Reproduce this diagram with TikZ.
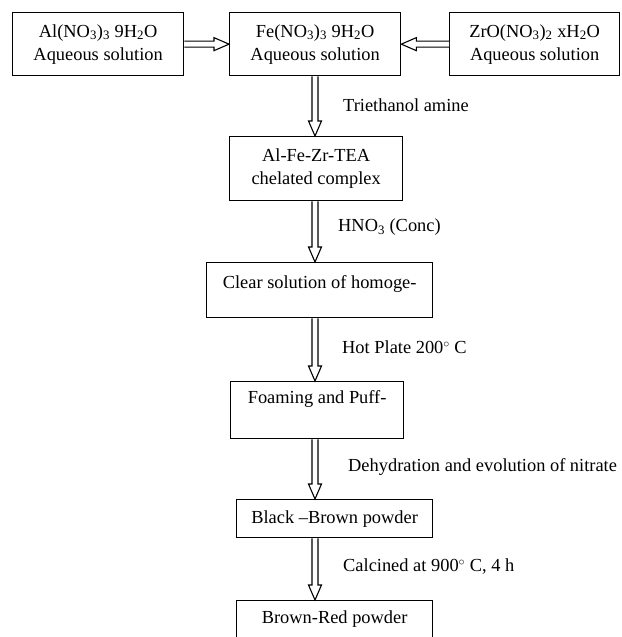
\documentclass[tikz,border=0pt]{standalone}
\usepackage{fontspec}
\setmainfont{Liberation Serif}
\usetikzlibrary{calc}
\tikzset{
  box/.style={draw=black, line width=1.3pt, fill=white, inner sep=0pt, anchor=north west,
    align=center, font=\fontsize{18.4}{23}\selectfont},
  lbl/.style={anchor=west, inner sep=0pt, font=\fontsize{18.4}{23}\selectfont},
  hollow/.style={draw=black, line width=1.1pt, fill=white, line join=miter},
}
\newcommand\hollowarrow[2]{%
  \coordinate (hb) at ($(#2)!15pt!(#1)$);
  \draw[hollow] ($(#1)!3pt!90:(#2)$) -- ($(hb)!3pt!90:(#2)$) -- ($(hb)!6.5pt!90:(#2)$) -- (#2)
    -- ($(hb)!6.5pt!-90:(#2)$) -- ($(hb)!3pt!-90:(#2)$) -- ($(#1)!3pt!-90:(#2)$);
}
\begin{document}
\begin{tikzpicture}[x=1pt, y=-1pt]
\useasboundingbox (0,0) rectangle (621,637);
\clip (0,0) rectangle (621,637);
\fill[white] (0,0) rectangle (621,637);

\node[box, minimum width=171pt, minimum height=63pt] (al) at (12,12)
  {Al(NO\textsubscript{3})\textsubscript{3} 9H\textsubscript{2}O\\Aqueous solution};
\node[box, minimum width=171pt, minimum height=63pt] (fe) at (229,12)
  {Fe(NO\textsubscript{3})\textsubscript{3} 9H\textsubscript{2}O\\Aqueous solution};
\node[box, minimum width=170pt, minimum height=63pt] (zr) at (449,12)
  {ZrO(NO\textsubscript{3})\textsubscript{2} xH\textsubscript{2}O\\Aqueous solution};
\node[box, minimum width=173pt, minimum height=64pt] (tea) at (229,136)
  {Al-Fe-Zr-TEA\\chelated complex};
\node[box, minimum width=226pt, text height=26pt, text depth=29pt] (clear) at (206,262)
  {Clear solution of homoge-};
\node[box, minimum width=173pt, text height=22pt, text depth=35pt] (foam) at (230,381)
  {Foaming and Puff-};
\node[box, minimum width=196pt, minimum height=38pt] (black) at (236,499)
  {Black --Brown powder};
\node[box, minimum width=196pt, text height=23pt, text depth=22pt] (brown) at (236,600)
  {Brown-Red powder};

\coordinate (spine) at (315,0);
\coordinate (s1) at (fe.south -| spine);    \coordinate (t1) at (tea.north -| spine);
\coordinate (s2) at (tea.south -| spine);   \coordinate (t2) at (clear.north -| spine);
\coordinate (s3) at (clear.south -| spine); \coordinate (t3) at (foam.north -| spine);
\coordinate (s4) at (foam.south -| spine);  \coordinate (t4) at (black.north -| spine);
\coordinate (s5) at (black.south -| spine); \coordinate (t5) at (brown.north -| spine);

\hollowarrow{al.east}{fe.west}
\hollowarrow{zr.west}{fe.east}
\hollowarrow{s1}{t1}
\hollowarrow{s2}{t2}
\hollowarrow{s3}{t3}
\hollowarrow{s4}{t4}
\hollowarrow{s5}{t5}

\node[lbl] (l1) at (343,105) {Triethanol amine};
\node[lbl] (l2) at (338,227) {HNO\textsubscript{3} (Conc)};
\node[lbl] (l3) at (342,347) {Hot Plate 200$^{\circ}$ C};
\node[lbl] (l4) at (348,467) {Dehydration and evolution of nitrate};
\node[lbl] (l5) at (343,567) {Calcined at 900$^{\circ}$ C, 4 h};
\end{tikzpicture}
\end{document}
